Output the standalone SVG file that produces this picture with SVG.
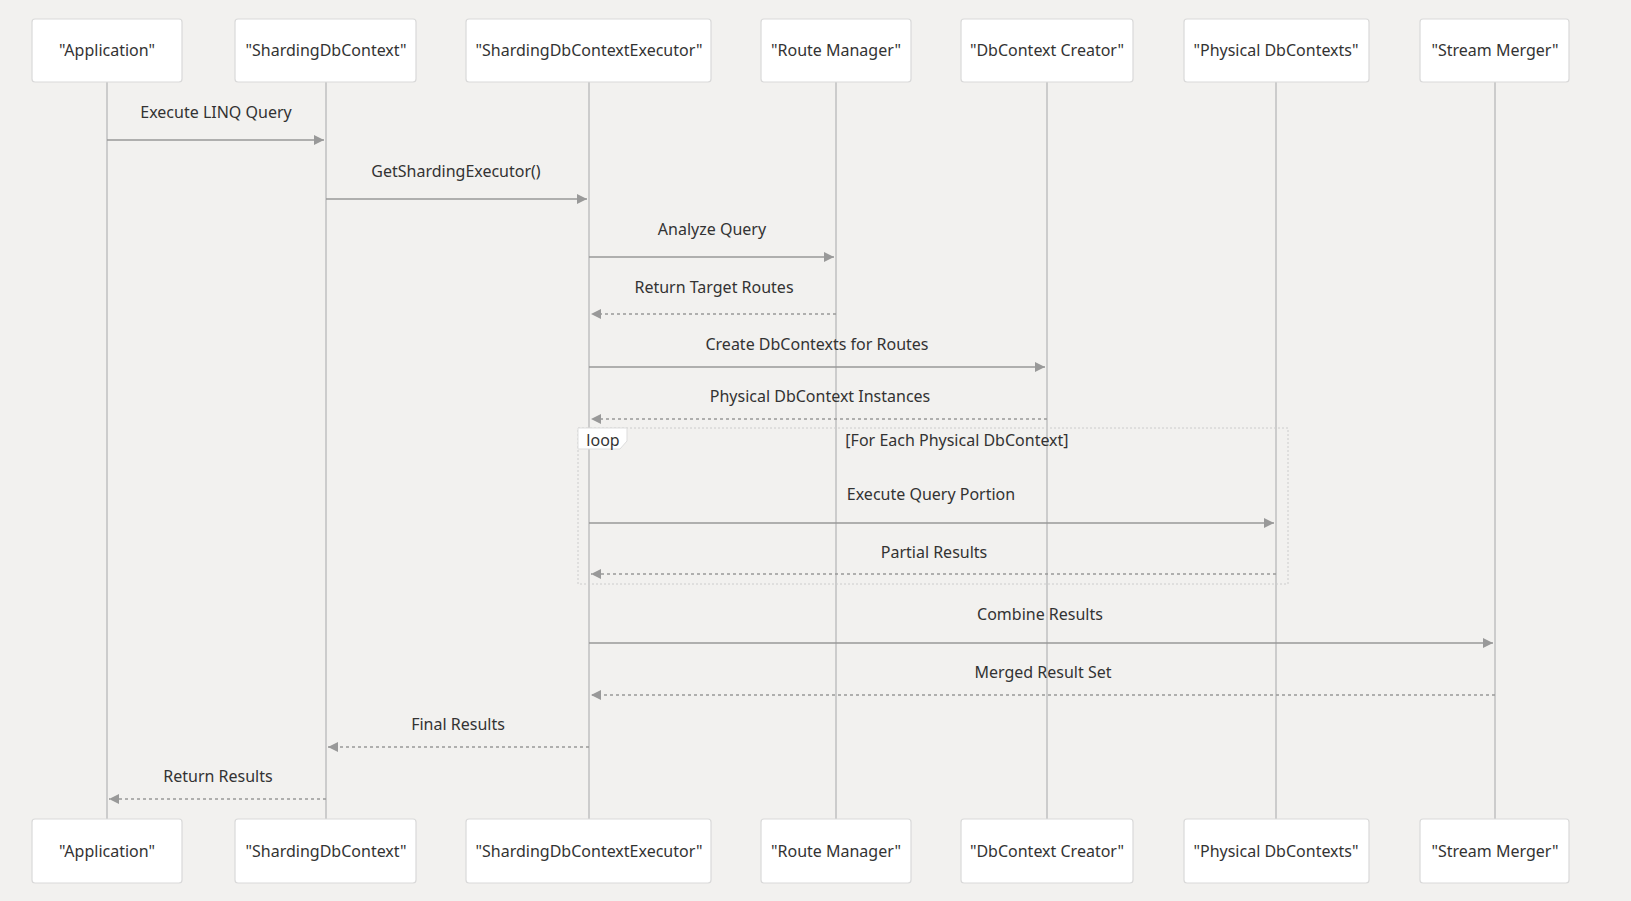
<svg xmlns="http://www.w3.org/2000/svg" width="1631" height="901" viewBox="0 0 1631 901">
<style>
.bg{fill:#f2f1ef}
.actor rect{fill:#fff;stroke:#d9d9d9;stroke-width:1.2}
text{font-family:"Noto Sans","Open Sans",sans-serif;font-size:16px;fill:#333;text-anchor:middle}
.life{stroke:#ccc;stroke-width:2}
.msg{stroke:#999;stroke-width:1.5;fill:none}
.dash{stroke-dasharray:3,3}
</style>
<defs><marker id="ah" viewBox="0 0 10 10" refX="10" refY="5" markerWidth="10" markerHeight="10" markerUnits="userSpaceOnUse" orient="auto"><path d="M0,0L10,5L0,10z" fill="#999"/></marker></defs>
<rect class="bg" width="1631" height="901"/>
<g id="lifelines">
<line class="life" x1="107" y1="82" x2="107" y2="819"/>
<line class="life" x1="326" y1="82" x2="326" y2="819"/>
<line class="life" x1="589" y1="82" x2="589" y2="819"/>
<line class="life" x1="836" y1="82" x2="836" y2="819"/>
<line class="life" x1="1047" y1="82" x2="1047" y2="819"/>
<line class="life" x1="1276" y1="82" x2="1276" y2="819"/>
<line class="life" x1="1495" y1="82" x2="1495" y2="819"/>
</g>
<g id="loop">
<rect x="578" y="428" width="710" height="156" fill="none" stroke="#ccc" stroke-width="1" stroke-dasharray="2,2"/>
<path d="M578,428H627V441L620,449H578Z" fill="#fff" stroke="#ddd"/>
<text x="603" y="446">loop</text>
<text x="957" y="446">[For Each Physical DbContext]</text>
</g>
<g id="connectors">
<line class="msg" x1="107" y1="140" x2="324" y2="140" marker-end="url(#ah)"/>
<text x="216" y="118">Execute LINQ Query</text>
<line class="msg" x1="326" y1="199" x2="587" y2="199" marker-end="url(#ah)"/>
<text x="456" y="177">GetShardingExecutor()</text>
<line class="msg" x1="589" y1="257" x2="834" y2="257" marker-end="url(#ah)"/>
<text x="712" y="235">Analyze Query</text>
<line class="msg dash" x1="836" y1="314" x2="591" y2="314" marker-end="url(#ah)"/>
<text x="714" y="293">Return Target Routes</text>
<line class="msg" x1="589" y1="367" x2="1045" y2="367" marker-end="url(#ah)"/>
<text x="817" y="350">Create DbContexts for Routes</text>
<line class="msg dash" x1="1047" y1="419" x2="591" y2="419" marker-end="url(#ah)"/>
<text x="820" y="402">Physical DbContext Instances</text>
<line class="msg" x1="589" y1="523" x2="1274" y2="523" marker-end="url(#ah)"/>
<text x="931" y="500">Execute Query Portion</text>
<line class="msg dash" x1="1276" y1="574" x2="591" y2="574" marker-end="url(#ah)"/>
<text x="934" y="558">Partial Results</text>
<line class="msg" x1="589" y1="643" x2="1493" y2="643" marker-end="url(#ah)"/>
<text x="1040" y="620">Combine Results</text>
<line class="msg dash" x1="1495" y1="695" x2="591" y2="695" marker-end="url(#ah)"/>
<text x="1043" y="678">Merged Result Set</text>
<line class="msg dash" x1="589" y1="747" x2="328" y2="747" marker-end="url(#ah)"/>
<text x="458" y="730">Final Results</text>
<line class="msg dash" x1="326" y1="799" x2="109" y2="799" marker-end="url(#ah)"/>
<text x="218" y="782">Return Results</text>
</g>
<g id="n-app" class="actor"><rect x="32" y="19" width="150" height="63" rx="3"/><text x="107" y="56">"Application"</text></g>
<g id="n-sdc" class="actor"><rect x="235" y="19" width="181" height="63" rx="3"/><text x="326" y="56">"ShardingDbContext"</text></g>
<g id="n-exec" class="actor"><rect x="466" y="19" width="245" height="63" rx="3"/><text x="589" y="56">"ShardingDbContextExecutor"</text></g>
<g id="n-route" class="actor"><rect x="761" y="19" width="150" height="63" rx="3"/><text x="836" y="56">"Route Manager"</text></g>
<g id="n-creator" class="actor"><rect x="961" y="19" width="172" height="63" rx="3"/><text x="1047" y="56">"DbContext Creator"</text></g>
<g id="n-phys" class="actor"><rect x="1184" y="19" width="185" height="63" rx="3"/><text x="1276" y="56">"Physical DbContexts"</text></g>
<g id="n-merge" class="actor"><rect x="1420" y="19" width="149" height="63" rx="3"/><text x="1495" y="56">"Stream Merger"</text></g>
<g id="n-app-b" class="actor"><rect x="32" y="819" width="150" height="64" rx="3"/><text x="107" y="857">"Application"</text></g>
<g id="n-sdc-b" class="actor"><rect x="235" y="819" width="181" height="64" rx="3"/><text x="326" y="857">"ShardingDbContext"</text></g>
<g id="n-exec-b" class="actor"><rect x="466" y="819" width="245" height="64" rx="3"/><text x="589" y="857">"ShardingDbContextExecutor"</text></g>
<g id="n-route-b" class="actor"><rect x="761" y="819" width="150" height="64" rx="3"/><text x="836" y="857">"Route Manager"</text></g>
<g id="n-creator-b" class="actor"><rect x="961" y="819" width="172" height="64" rx="3"/><text x="1047" y="857">"DbContext Creator"</text></g>
<g id="n-phys-b" class="actor"><rect x="1184" y="819" width="185" height="64" rx="3"/><text x="1276" y="857">"Physical DbContexts"</text></g>
<g id="n-merge-b" class="actor"><rect x="1420" y="819" width="149" height="64" rx="3"/><text x="1495" y="857">"Stream Merger"</text></g>
</svg>
